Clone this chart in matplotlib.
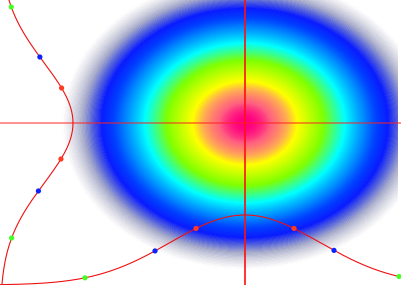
import matplotlib
matplotlib.use("Agg")
import matplotlib.pyplot as plt
import numpy as np
from matplotlib.colors import LinearSegmentedColormap

# centre and spread of the 2d gaussian (chart units, y grows downwards)
center_x, center_y = 245, 123
sigma_x, sigma_y = 75, 60

# marginal curves: bottom one along x, left one along y
bottom_base, bottom_amp = 285, 70
left_base, left_amp = 0, 73

# marker positions on the marginal curves
bottom_dots_x = [85, 155, 196, 294, 334, 399]
left_dots_y = [7, 57, 88, 159, 191, 238]
dot_colors = ["#44ff22", "#0a22ff", "#ff3a22", "#ff3a22", "#0a22ff", "#44ff22"]

# colour stops of the density map (density value -> colour)
stop_values = [0.0, 0.05, 0.07, 0.095, 0.125, 0.16, 0.212, 0.29, 0.411, 0.58, 0.687, 0.786, 0.855, 0.946, 1.0]
stop_colors = ["#ffffff", "#ffffff", "#dcdce6", "#a8accc", "#5462dc", "#0a1cff", "#0040ff", "#0090ff",
               "#00ffff", "#80ff00", "#c0ff00", "#ffff00", "#ffb050", "#ff6080", "#ff0080"]

cmap = LinearSegmentedColormap.from_list("blob", list(zip(stop_values, stop_colors)))

fig = plt.figure(figsize=(4.02, 2.85), dpi=100)
ax = fig.add_axes([0, 0, 1, 1])
ax.set_xlim(0, 402)
ax.set_ylim(285, 0)
ax.axis("off")

# density image
gx = np.arange(0, 398) + 0.5
gy = np.arange(0, 285) + 0.5
X, Y = np.meshgrid(gx, gy)
density = np.exp(-((X - center_x) ** 2 / (2 * sigma_x ** 2) + (Y - center_y) ** 2 / (2 * sigma_y ** 2)))
ax.imshow(density, cmap=cmap, vmin=0, vmax=1, extent=[0, 398, 285, 0],
          interpolation="bilinear", aspect="auto", zorder=1)

# crosshair
ax.axvline(center_x, color="#ff1010", lw=1.2, zorder=3)
ax.axhline(center_y, color="#ff2020", lw=1.4, alpha=0.5, zorder=3)

# bottom marginal
xs = np.linspace(0, 399, 400)
ax.plot(xs, bottom_base - bottom_amp * np.exp(-(xs - center_x) ** 2 / (2 * sigma_x ** 2)),
        color="#ee1111", lw=0.8, zorder=4)
bx = np.array(bottom_dots_x)
ax.scatter(bx, bottom_base - bottom_amp * np.exp(-(bx - center_x) ** 2 / (2 * sigma_x ** 2)),
           c=dot_colors, s=14, linewidths=0, zorder=5)

# left marginal
ys = np.linspace(0, 285, 300)
ax.plot(left_base + left_amp * np.exp(-(ys - center_y) ** 2 / (2 * sigma_y ** 2)), ys,
        color="#ee1111", lw=0.8, zorder=4)
ly = np.array(left_dots_y)
ax.scatter(left_base + left_amp * np.exp(-(ly - center_y) ** 2 / (2 * sigma_y ** 2)), ly,
           c=dot_colors, s=14, linewidths=0, zorder=5)

fig.savefig("out.png", dpi=100)
